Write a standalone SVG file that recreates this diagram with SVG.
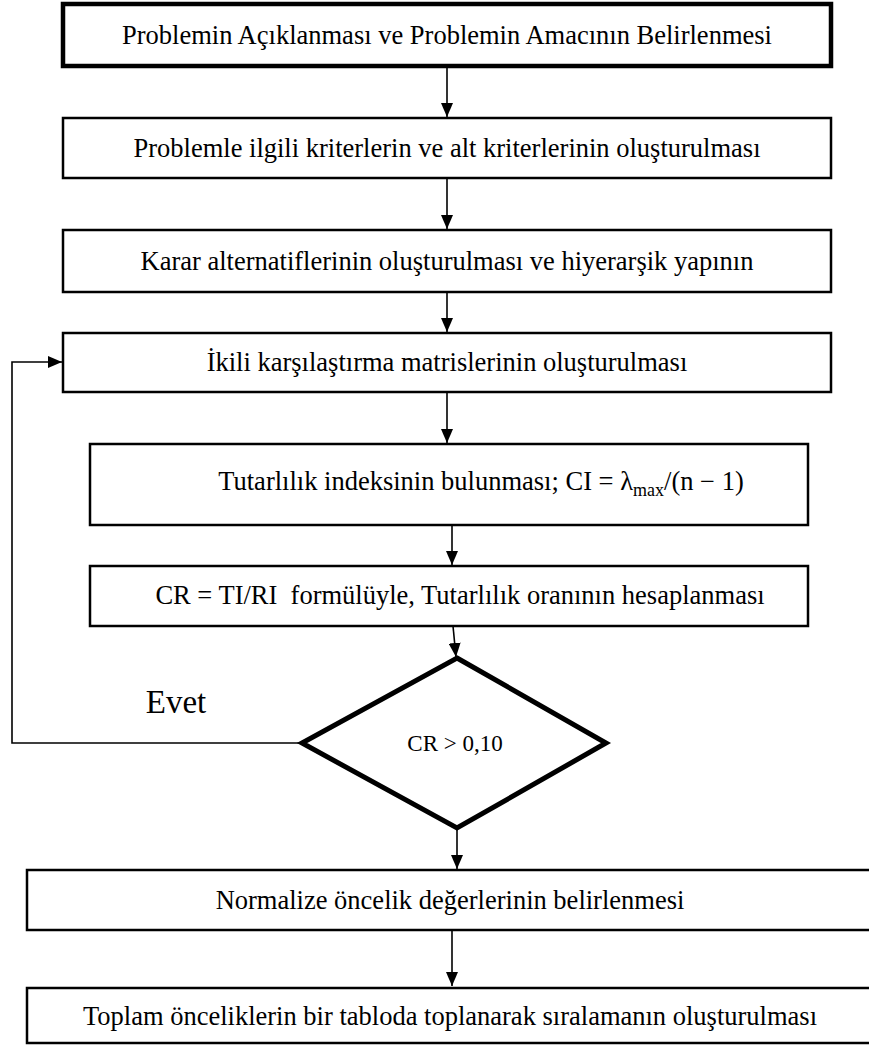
<svg xmlns="http://www.w3.org/2000/svg" width="869" height="1046" viewBox="0 0 869 1046">
<style>
.box{fill:#fff;stroke:#000;stroke-width:2.5}
.thick{stroke-width:4.5}
.dia{fill:#fff;stroke:#000;stroke-width:5;stroke-linejoin:miter}
.t{font-family:"Liberation Serif","Times New Roman",serif;font-size:26.5px;fill:#000;text-anchor:middle}
.m{font-family:"Liberation Serif","Times New Roman",serif;font-size:23px;fill:#000;text-anchor:middle}
.c{fill:none;stroke:#000;stroke-width:1.6}
</style>
<defs>
<marker id="ah" markerWidth="14" markerHeight="12" refX="14" refY="6" orient="auto" markerUnits="userSpaceOnUse">
<path d="M0,0 L14,6 L0,12 Z" fill="#000"/>
</marker>
</defs>
<rect width="869" height="1046" fill="#fff"/>
<g id="connectors">
<line class="c" x1="447" y1="66" x2="447" y2="117" marker-end="url(#ah)"/>
<line class="c" x1="447" y1="178" x2="447" y2="229" marker-end="url(#ah)"/>
<line class="c" x1="447" y1="292" x2="447" y2="332" marker-end="url(#ah)"/>
<line class="c" x1="447" y1="392" x2="447" y2="443" marker-end="url(#ah)"/>
<line class="c" x1="452" y1="525" x2="452" y2="565" marker-end="url(#ah)"/>
<line class="c" x1="453" y1="626" x2="456" y2="657" marker-end="url(#ah)"/>
<line class="c" x1="457" y1="828" x2="457" y2="869" marker-end="url(#ah)"/>
<line class="c" x1="452" y1="930" x2="452" y2="986" marker-end="url(#ah)"/>
<polyline class="c" points="302,743 12,743 12,362 62,362" marker-end="url(#ah)"/>
</g>
<g id="n1"><rect class="box thick" x="63" y="4" width="768" height="62"/><text class="t" x="447" y="44">Problemin Açıklanması ve Problemin Amacının Belirlenmesi</text></g>
<g id="n2"><rect class="box" x="63" y="118" width="768" height="60"/><text class="t" x="447" y="157">Problemle ilgili kriterlerin ve alt kriterlerinin oluşturulması</text></g>
<g id="n3"><rect class="box" x="63" y="230" width="768" height="62"/><text class="t" x="447" y="270">Karar alternatiflerinin oluşturulması ve hiyerarşik yapının</text></g>
<g id="n4"><rect class="box" x="63" y="333" width="768" height="59"/><text class="t" x="447" y="371">İkili karşılaştırma matrislerinin oluşturulması</text></g>
<g id="n5"><rect class="box" x="90" y="444" width="718" height="81"/><text class="t" x="481" y="490">Tutarlılık indeksinin bulunması; CI = λ<tspan font-size="18" dy="6">max</tspan><tspan dy="-6">/(n − 1)</tspan></text></g>
<g id="n6"><rect class="box" x="90" y="566" width="718" height="60"/><text class="t" x="460" y="604" xml:space="preserve">CR = TI/RI  formülüyle, Tutarlılık oranının hesaplanması</text></g>
<g id="n7"><polygon class="dia" points="457,658 606,743 457,828 302,743"/><text class="m" x="455" y="751">CR &gt; 0,10</text></g>
<text class="t" x="176" y="713" style="font-size:33px">Evet</text>
<g id="n8"><rect class="box" x="27" y="870" width="845" height="60"/><text class="t" x="450" y="909">Normalize öncelik değerlerinin belirlenmesi</text></g>
<g id="n9"><rect class="box" x="27" y="988" width="845" height="55"/><text class="t" x="450" y="1025">Toplam önceliklerin bir tabloda toplanarak sıralamanın oluşturulması</text></g>
</svg>
